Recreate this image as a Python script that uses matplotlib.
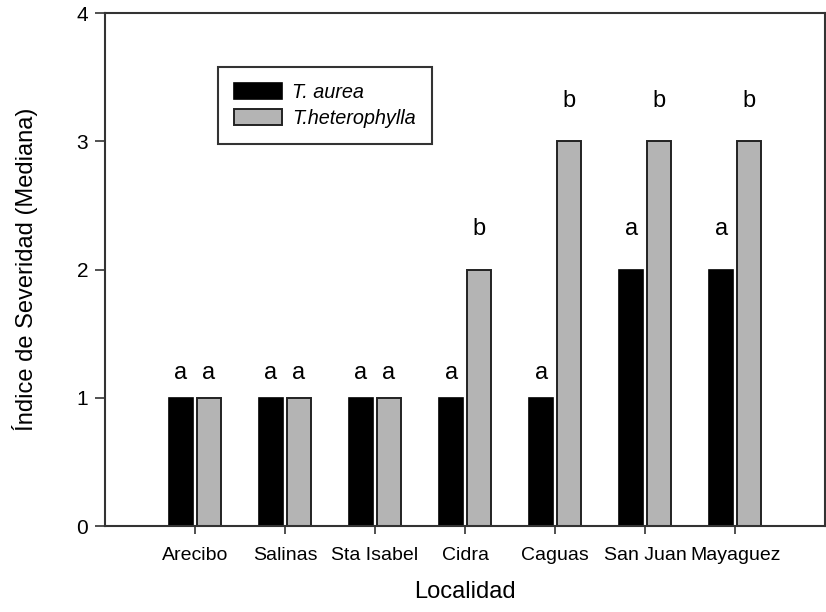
import matplotlib
matplotlib.use("Agg")
import matplotlib.pyplot as plt
import numpy as np

plt.rcParams['font.family'] = ['Liberation Sans', 'DejaVu Sans']

localidades = ["Arecibo", "Salinas", "Sta Isabel", "Cidra", "Caguas", "San Juan", "Mayaguez"]
t_aurea = [1, 1, 1, 1, 1, 2, 2]
t_heterophylla = [1, 1, 1, 2, 3, 3, 3]
letras_aurea = ["a", "a", "a", "a", "a", "a", "a"]
letras_hetero = ["a", "a", "a", "b", "b", "b", "b"]

fig = plt.figure(figsize=(8.26, 6.12), dpi=100)
ax = fig.add_axes([0.127, 0.1405, 0.872, 0.838])

x = np.arange(len(localidades))
w = 0.26
off = 0.155
ax.bar(x - off, t_aurea, w, color="black", edgecolor="black", linewidth=1.2, label="T. aurea")
ax.bar(x + off, t_heterophylla, w, color="#b4b4b4", edgecolor="#222222", linewidth=1.4, label="T.heterophylla")

def label_y(v):
    return v + (0.15 if v == 1 else 0.27)

for i in range(len(x)):
    ax.text(x[i] - off, label_y(t_aurea[i]), letras_aurea[i], ha="center", va="baseline", fontsize=17)
    ax.text(x[i] + off, label_y(t_heterophylla[i]), letras_hetero[i], ha="center", va="baseline", fontsize=17)

ax.set_xlim(-1, 7)
ax.set_ylim(0, 4)
ax.set_xticks(x)
ax.set_xticklabels(localidades, fontsize=14)
ax.set_yticks([0, 1, 2, 3, 4])
ax.set_yticklabels(["0", "1", "2", "3", "4"], fontsize=15)
ax.tick_params(axis="x", direction="out", length=6, width=1.2, color="#333333", pad=9)
ax.tick_params(axis="y", direction="out", length=7, width=1.2, color="#333333", pad=5)
for s in ax.spines.values():
    s.set_linewidth(1.5)
    s.set_color("#333333")

ax.set_xlabel("Localidad", fontsize=17, labelpad=12)
ax.set_ylabel("Índice de Severidad (Mediana)", fontsize=17, labelpad=28)

leg = ax.legend(loc="upper left", bbox_to_anchor=(0.157, 0.895), frameon=True, fancybox=False,
                edgecolor="black", prop={'style': 'italic', 'size': 14.3},
                handlelength=2.4, handleheight=0.85, handletextpad=0.55,
                borderpad=0.8, borderaxespad=0, labelspacing=0.35)
leg.get_frame().set_linewidth(1.5)

fig.savefig("out.png", dpi=100)
